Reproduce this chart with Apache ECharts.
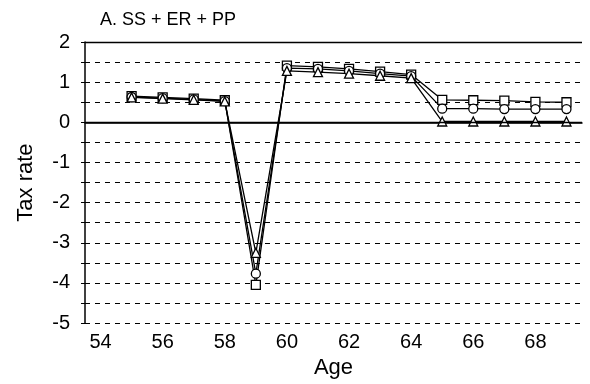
<!DOCTYPE html>
<html>
<head>
<meta charset="utf-8">
<script src="https://cdn.jsdelivr.net/npm/echarts@6/dist/echarts.min.js"></script>
<style>html,body{margin:0;padding:0;background:#fff;}#c{width:590px;height:384px;}</style>
</head>
<body>
<div id="c"></div>
<script>
var ages = ['54','55','56','57','58','59','60','61','62','63','64','65','66','67','68','69'];
var squareSeries = [null, 0.65, 0.62, 0.59, 0.55, -4.05, 1.41, 1.38, 1.33, 1.26, 1.19, 0.56, 0.55, 0.54, 0.51, 0.50];
var circleSeries = [null, 0.63, 0.60, 0.57, 0.53, -3.77, 1.35, 1.33, 1.28, 1.21, 1.15, 0.34, 0.34, 0.33, 0.33, 0.33];
var triangleSeries = [null, 0.62, 0.59, 0.56, 0.52, -3.25, 1.28, 1.25, 1.21, 1.16, 1.10, 0.02, 0.02, 0.02, 0.02, 0.02];
var yTicks = [2, 1, 0, -1, -2, -3, -4, -5];

var font = 'Liberation Sans, Arial, Helvetica, sans-serif';
var chart = echarts.init(document.getElementById('c'));
function mk(name, data, symbol, size) {
  return {
    name: name, type: 'line', data: data, symbol: symbol, symbolSize: size,
    showAllSymbol: true, connectNulls: false,
    lineStyle: {color: '#000', width: 1.3},
    itemStyle: {color: '#fff', borderColor: '#000', borderWidth: 1.3},
    z: 3
  };
}
var s1 = mk('square', squareSeries, 'rect', 9);
s1.markLine = {
  silent: true, symbol: 'none', label: {show: false},
  lineStyle: {color: '#000', type: 'solid', width: 1.3},
  data: [{yAxis: 0}, {yAxis: 2}]
};
chart.setOption({
  animation: false,
  title: {text: 'A. SS + ER + PP', left: 95, top: 6,
    textStyle: {fontFamily: font, fontSize: 18, fontWeight: 'normal', color: '#000'}},
  grid: {left: 85, right: 8, top: 42, bottom: 59},
  xAxis: {
    type: 'category', data: ages, boundaryGap: true,
    name: 'Age', nameLocation: 'middle', nameGap: 33,
    nameTextStyle: {fontFamily: font, fontSize: 22, color: '#000'},
    axisLine: {lineStyle: {color: '#000', width: 1.5}},
    axisTick: {alignWithLabel: true, interval: 0, length: 5, lineStyle: {color: '#000'}},
    axisLabel: {interval: 1, fontFamily: font, fontSize: 20, color: '#000', margin: 9},
    splitLine: {show: false}
  },
  yAxis: {
    type: 'value', min: -5, max: 2, interval: 0.5,
    name: 'Tax rate', nameLocation: 'middle', nameGap: 48, nameRotate: 90,
    nameTextStyle: {fontFamily: font, fontSize: 22, color: '#000'},
    axisLine: {show: true, lineStyle: {color: '#000', width: 1.5}},
    axisTick: {show: true, length: 4, lineStyle: {color: '#000'}},
    axisLabel: {fontFamily: font, fontSize: 20, color: '#000', margin: 15,
      formatter: function (v) { return yTicks.indexOf(v) >= 0 ? String(v) : ''; }},
    splitLine: {show: true, lineStyle: {color: '#000', type: [5, 5], width: 1}}
  },
  series: [
    s1,
    mk('circle', circleSeries, 'circle', 9),
    mk('triangle', triangleSeries, 'triangle', 9)
  ]
});
</script>
</body>
</html>
